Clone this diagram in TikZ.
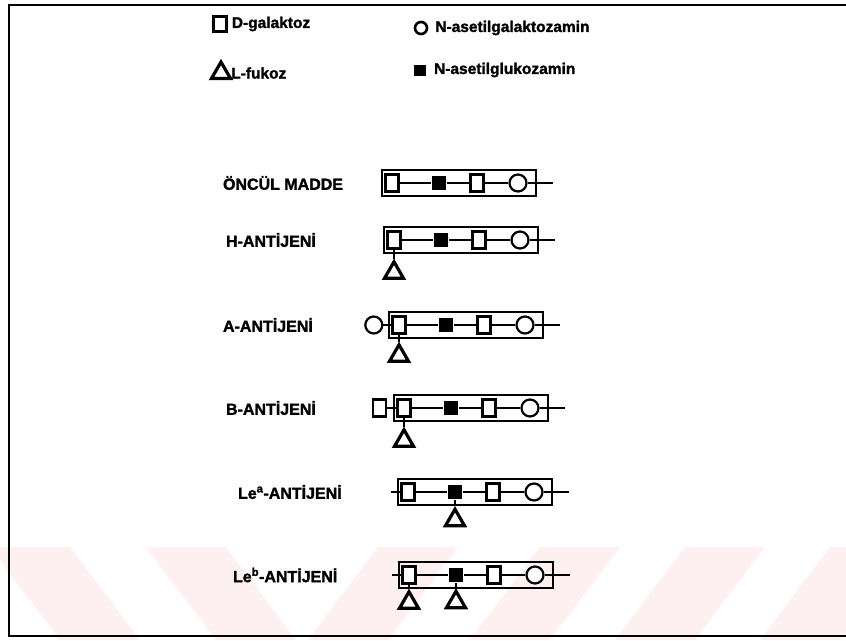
\documentclass[tikz,border=0pt]{standalone}
\usepackage{fontspec}
\setmainfont{Liberation Sans}[BoldFeatures={FakeBold=1.6}]
\usetikzlibrary{shapes.geometric,positioning}
\definecolor{wmpink}{RGB}{254,239,241}

\begin{document}
\begin{tikzpicture}[x=1pt, y=-1pt, line width=2.1pt,
    gal/.style={draw, rectangle, line width=2.2pt, minimum width=13pt, minimum height=17pt, inner sep=0pt, fill=white},
    glc/.style={rectangle, fill, minimum width=14pt, minimum height=14pt, inner sep=0pt},
    galn/.style={draw, circle, line width=2.2pt, minimum size=17pt, inner sep=0pt, fill=white},
    fuc/.style={draw, regular polygon, regular polygon sides=3, line width=3.2pt, minimum size=22pt, inner sep=0pt, fill=white},
    lbl/.style={font=\bfseries\fontsize{16}{18}\selectfont, anchor=west, inner sep=0pt},
    key/.style={font=\bfseries\fontsize{15.5}{17}\selectfont, inner sep=0pt},
    chainbox/.style={draw, line width=1.7pt, minimum width=154pt, minimum height=26pt, inner sep=0pt, anchor=west}]
  \useasboundingbox (0,0) rectangle (846,640);
  % ---------------- watermark ----------------
  \begin{scope}
    \clip (0,547) rectangle (846,640);
    \foreach \a in {-10,146} \fill[wmpink] (\a,547) -- ++(80,0) -- ++(70,93) -- ++(-80,0) -- cycle;
    \foreach \a in {378,540,685,830} \fill[wmpink] (\a,547) -- ++(80,0) -- ++(-70,93) -- ++(-80,0) -- cycle;
  \end{scope}
  % ---------------- frame ----------------
  \draw[line width=2.5pt] (846,5) -- (9,5) -- (9,636) -- (846,636);
  % ---------------- legend ----------------
  \node[gal, line width=2.6pt, minimum width=13pt, minimum height=15pt] (kgal) at (220,24) {};
  \node[key, right=3pt of kgal] {D-galaktoz};
  \node[galn, line width=2.6pt, minimum size=12pt] (kgaln) at (421,28) {};
  \node[key, right=6pt of kgaln] {N-asetilgalaktozamin};
  \node[fuc] (kfuc) at (221,73) {};
  \node[key, right=1pt of kfuc] {L-fukoz};
  \node[glc, minimum width=12pt, minimum height=11pt] (kglc) at (420,70) {};
  \node[key, right=6pt of kglc] {N-asetilglukozamin};
  % ---------------- chains ----------------
  \foreach \r/\bx/\by in {1/381/183, 2/383/240, 3/388/325, 4/393/408, 5/397/492, 6/398/575} {
    \node[chainbox] (box\r) at (\bx,\by) {};
    \node[gal] (ga\r) at (\bx+11,\by) {};
    \node[glc] (gn\r) at (\bx+58,\by) {};
    \node[gal] (gb\r) at (\bx+96,\by) {};
    \node[galn] (an\r) at (\bx+137,\by) {};
    \coordinate (end\r) at (\bx+172,\by);
    \draw (ga\r) -- (gn\r) -- (gb\r) -- (an\r) -- (end\r);
  }
  % ---------------- labels ----------------
  \node[lbl] (l1) at (222,183) {ÖNCÜL MADDE};
  \node[lbl] (l2) at (225,240) {H-ANTİJENİ};
  \node[lbl] (l3) at (222,325) {A-ANTİJENİ};
  \node[lbl] (l4) at (225,408) {B-ANTİJENİ};
  \node[lbl] (l5) at (237,492) {Le\textsuperscript{a}-ANTİJENİ};
  \node[lbl] (l6) at (232,575) {Le\textsuperscript{b}-ANTİJENİ};
  % ---------------- side branches ----------------
  \node[fuc, below=9pt of ga2] (f2) {};
  \draw (ga2) -- (f2);
  \node[galn, left=8pt of ga3] (x3) {};
  \draw (x3) -- (ga3);
  \node[fuc, below=7pt of ga3] (f3) {};
  \draw (ga3) -- (f3);
  \node[gal, left=9pt of ga4] (x4) {};
  \draw (x4) -- (ga4);
  \node[fuc, below=9pt of ga4] (f4) {};
  \draw (ga4) -- (f4);
  \coordinate[left=9pt of ga5] (s5);
  \draw (ga5) -- (s5);
  \node[fuc, below=6pt of gn5] (f5) {};
  \draw (gn5) -- (f5);
  \coordinate[left=9pt of ga6] (s6);
  \draw (ga6) -- (s6);
  \node[fuc, below=4pt of ga6] (f6a) {};
  \draw (ga6) -- (f6a);
  \node[fuc, below=5pt of gn6] (f6b) {};
  \draw (gn6) -- (f6b);
\end{tikzpicture}
\end{document}
